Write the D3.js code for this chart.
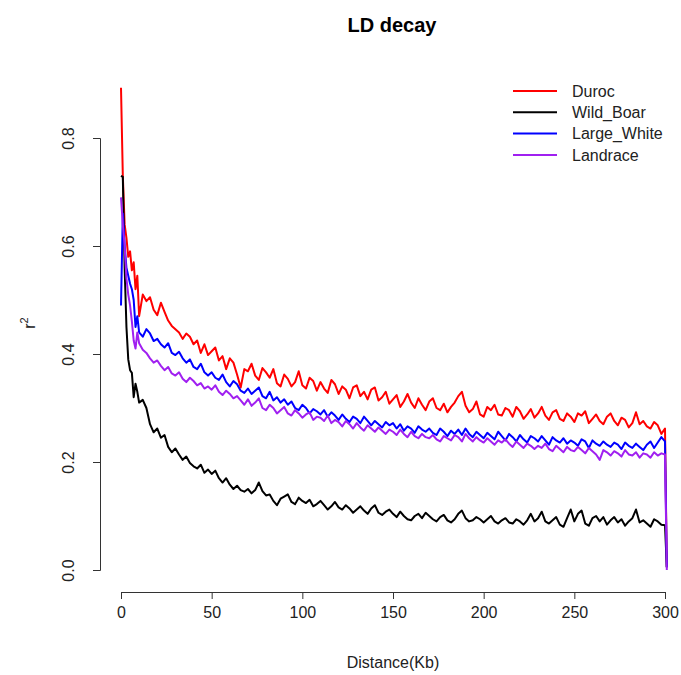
<!DOCTYPE html>
<html>
<head>
<meta charset="utf-8">
<script src="https://cdn.jsdelivr.net/npm/d3@7"></script>
<style>
  html, body { margin: 0; padding: 0; background: #fff; }
  svg { display: block; font-family: "Liberation Sans", Arial, Helvetica, sans-serif; }
</style>
</head>
<body>
<svg id="chart" width="681" height="675"></svg>
<script>
const title = "LD decay";
const xLabel = "Distance(Kb)";
const seriesNames = ["Duroc", "Wild_Boar", "Large_White", "Landrace"];
const seriesColors = ["#ff0000", "#000000", "#0000ff", "#a020f0"];
const xTicks = [0, 50, 100, 150, 200, 250, 300];
const yTicks = [0.0, 0.2, 0.4, 0.6, 0.8];

const distance = [
  0,1,2,3,4,5,6,7,8,9,
  10,12,14,16,18,20,22,24,26,28,
  30,32,34,36,38,40,42,44,46,48,
  50,52,54,56,58,60,62,64,66,68,
  70,72,74,76,78,80,82,84,86,88,
  90,92,94,96,98,100,102,104,106,108,
  110,112,114,116,118,120,122,124,126,128,
  130,132,134,136,138,140,142,144,146,148,
  150,152,154,156,158,160,162,164,166,168,
  170,172,174,176,178,180,182,184,186,188,
  190,192,194,196,198,200,202,204,206,208,
  210,212,214,216,218,220,222,224,226,228,
  230,232,234,236,238,240,242,244,246,248,
  250,252,254,256,258,260,262,264,266,268,
  270,272,274,276,278,280,282,284,286,288,
  290,292,294,296,298,300,301
];

const duroc = [
  .893,.730,.640,.615,.580,.590,.555,.570,.520,.545,
  .470,.510,.498,.505,.482,.472,.495,.478,.462,.452,
  .446,.440,.428,.438,.432,.418,.425,.402,.418,.398,
  .405,.412,.388,.396,.372,.392,.384,.362,.338,.372,
  .368,.382,.360,.352,.374,.366,.356,.372,.346,.340,
  .362,.354,.340,.348,.368,.342,.336,.356,.350,.332,
  .348,.336,.328,.352,.344,.326,.340,.334,.318,.338,
  .342,.322,.330,.316,.334,.338,.314,.320,.330,.308,
  .316,.324,.302,.312,.326,.310,.300,.318,.306,.296,
  .312,.318,.300,.296,.308,.292,.302,.310,.322,.330,
  .304,.292,.298,.312,.288,.284,.302,.296,.306,.288,
  .286,.300,.296,.284,.302,.294,.280,.288,.298,.282,
  .290,.302,.286,.278,.292,.296,.280,.276,.290,.284,
  .274,.290,.286,.294,.272,.280,.288,.276,.270,.284,
  .290,.276,.268,.282,.278,.264,.272,.292,.270,.276,
  .266,.262,.274,.268,.252,.262,.005
];

const wildBoar = [
  .730,.728,.560,.450,.390,.370,.365,.320,.345,.330,
  .310,.315,.300,.270,.255,.262,.245,.250,.228,.218,
  .225,.214,.204,.210,.198,.192,.188,.195,.180,.186,
  .178,.184,.170,.162,.170,.158,.150,.156,.148,.145,
  .150,.142,.148,.162,.146,.138,.140,.128,.120,.132,
  .136,.140,.126,.122,.134,.128,.124,.130,.118,.122,
  .128,.120,.112,.118,.126,.116,.112,.120,.114,.106,
  .112,.118,.110,.104,.114,.120,.106,.102,.108,.112,
  .104,.098,.108,.100,.094,.092,.100,.104,.096,.106,
  .100,.094,.090,.098,.102,.092,.088,.094,.104,.110,
  .096,.090,.092,.098,.094,.088,.094,.100,.090,.086,
  .092,.096,.088,.086,.094,.090,.084,.092,.104,.090,
  .096,.108,.090,.086,.092,.098,.084,.080,.096,.112,
  .090,.104,.110,.086,.082,.096,.100,.090,.098,.084,
  .092,.098,.088,.094,.082,.090,.096,.112,.088,.092,
  .086,.080,.094,.090,.084,.083,.005
];

const largeWhite = [
  .490,.660,.600,.560,.545,.530,.520,.500,.450,.470,
  .440,.432,.446,.438,.424,.428,.418,.412,.420,.402,
  .398,.404,.392,.384,.390,.376,.372,.382,.366,.360,
  .366,.356,.352,.362,.348,.340,.350,.344,.332,.328,
  .336,.326,.332,.338,.322,.318,.330,.314,.320,.310,
  .316,.306,.312,.300,.296,.306,.300,.290,.298,.294,
  .288,.296,.284,.292,.286,.278,.288,.280,.274,.284,
  .280,.272,.284,.276,.268,.276,.270,.264,.274,.268,
  .272,.262,.270,.258,.266,.262,.254,.266,.260,.256,
  .262,.254,.250,.262,.256,.248,.258,.252,.260,.250,
  .262,.252,.246,.256,.250,.244,.254,.248,.242,.256,
  .248,.240,.252,.246,.238,.250,.242,.236,.248,.244,
  .238,.248,.240,.232,.246,.240,.236,.244,.234,.240,
  .236,.230,.242,.238,.226,.240,.234,.230,.238,.232,
  .228,.236,.232,.224,.236,.230,.226,.234,.228,.222,
  .232,.238,.226,.236,.246,.238,.005
];

const landrace = [
  .690,.640,.600,.540,.510,.490,.460,.425,.410,.440,
  .420,.408,.402,.392,.384,.388,.378,.370,.376,.364,
  .360,.366,.354,.348,.356,.350,.342,.346,.336,.340,
  .334,.342,.330,.324,.332,.326,.318,.322,.314,.306,
  .316,.304,.310,.318,.300,.296,.306,.300,.290,.296,
  .302,.290,.286,.296,.290,.282,.288,.292,.278,.284,
  .282,.276,.286,.272,.278,.274,.266,.276,.270,.262,
  .272,.264,.258,.268,.262,.256,.264,.258,.252,.260,
  .256,.250,.260,.252,.246,.256,.248,.244,.252,.246,
  .244,.250,.242,.238,.248,.244,.240,.250,.246,.238,
  .252,.244,.238,.246,.240,.236,.244,.238,.232,.240,
  .236,.242,.234,.228,.238,.232,.226,.234,.230,.224,
  .230,.226,.234,.224,.220,.230,.224,.218,.228,.222,
  .220,.228,.222,.216,.226,.220,.214,.204,.222,.218,
  .212,.220,.216,.210,.222,.214,.212,.218,.208,.216,
  .214,.208,.218,.212,.216,.214,.000
];

const seriesValues = [duroc, wildBoar, largeWhite, landrace];

const svg = d3.select("#chart");
const x = d3.scaleLinear().domain([0, 300]).range([121, 665]);
const y = d3.scaleLinear().domain([0, 0.8]).range([570, 138]);
const plotLeft = 100, plotBottom = 592;

// title
svg.append("text").attr("x", 392).attr("y", 32).attr("text-anchor", "middle")
  .attr("font-size", 20).attr("font-weight", "bold").attr("fill", "#000").text(title);

// x axis
const xAxis = d3.axisBottom(x).tickValues(xTicks).tickSizeOuter(0).tickSize(7).tickPadding(8)
  .tickFormat(d3.format("d"));
const gx = svg.append("g").attr("transform", `translate(0,${plotBottom})`).call(xAxis);
gx.select(".domain").attr("stroke", "#333").attr("stroke-width", 1);
gx.selectAll(".tick line").attr("stroke", "#333");
gx.selectAll(".tick text").attr("font-size", 16).attr("font-family", "Liberation Sans, Arial, sans-serif").attr("fill", "#222");

// y axis
const yAxis = d3.axisLeft(y).tickValues(yTicks).tickSizeOuter(0).tickSize(7).tickFormat(d3.format(".1f"));
const gy = svg.append("g").attr("transform", `translate(${plotLeft},0)`).call(yAxis);
gy.select(".domain").attr("stroke", "#333").attr("stroke-width", 1);
gy.selectAll(".tick line").attr("stroke", "#333");
gy.selectAll(".tick text")
  .attr("x", null).attr("dy", null)
  .attr("transform", "translate(-26,0) rotate(-90)")
  .attr("text-anchor", "middle")
  .attr("font-size", 16).attr("font-family", "Liberation Sans, Arial, sans-serif").attr("fill", "#222");

// axis titles
svg.append("text").attr("x", 393).attr("y", 668).attr("text-anchor", "middle")
  .attr("font-size", 16).attr("fill", "#222").text(xLabel);
const yl = svg.append("text").attr("transform", "translate(35,323) rotate(-90)")
  .attr("text-anchor", "middle").attr("font-size", 16).attr("fill", "#222");
yl.append("tspan").text("r");
yl.append("tspan").attr("font-size", 11).attr("dy", -7).text("2");

// lines
const line = d3.line().x((d, i) => x(distance[i])).y(d => y(d));
seriesValues.forEach((vals, k) => {
  svg.append("path").datum(vals).attr("d", line)
    .attr("fill", "none").attr("stroke", seriesColors[k]).attr("stroke-width", 2)
    .attr("stroke-linejoin", "round");
});

// legend
const lg = svg.append("g");
seriesNames.forEach((name, k) => {
  const yy = 91 + k * 21.3;
  lg.append("line").attr("x1", 513).attr("x2", 557).attr("y1", yy).attr("y2", yy)
    .attr("stroke", seriesColors[k]).attr("stroke-width", 2);
  lg.append("text").attr("x", 572).attr("y", yy).attr("dy", "0.35em")
    .attr("font-size", 16).attr("fill", "#222").text(name);
});
</script>
</body>
</html>
